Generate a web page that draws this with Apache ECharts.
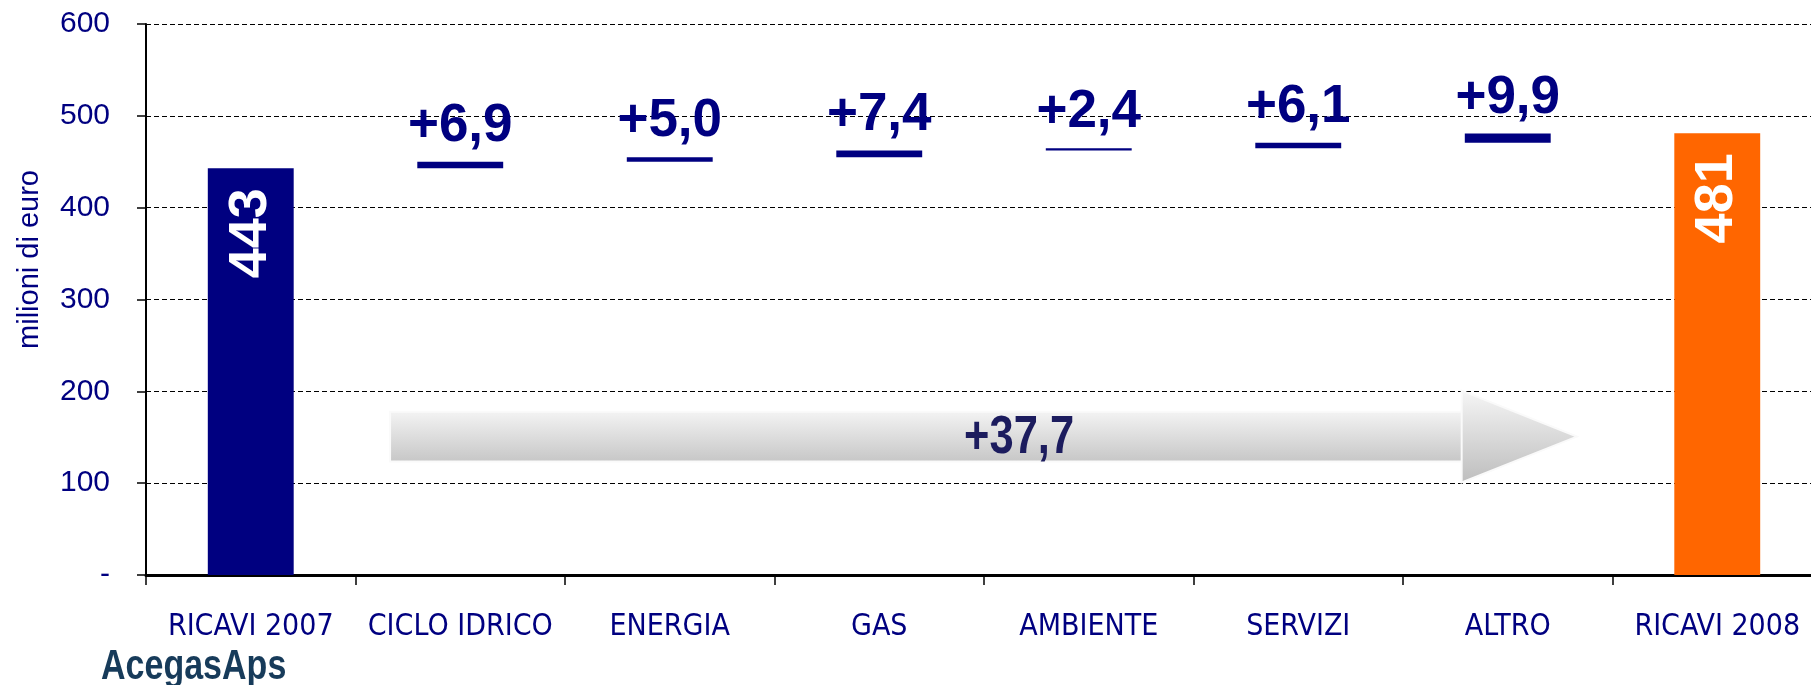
<!DOCTYPE html>
<html>
<head>
<meta charset="utf-8">
<title>Ricavi 2007 - 2008</title>
<script src="https://cdn.jsdelivr.net/npm/echarts@6/dist/echarts.min.js"></script>
<style>
  html, body { margin: 0; padding: 0; background: #fff; }
  #chart { width: 1811px; height: 685px; }
</style>
</head>
<body>
<div id="chart"></div>
<script>
const categorie = ['RICAVI 2007', 'CICLO IDRICO', 'ENERGIA', 'GAS', 'AMBIENTE', 'SERVIZI', 'ALTRO', 'RICAVI 2008'];
const ricavi2007 = 443;
const ricavi2008 = 481;
const variazioni = [6.9, 5.0, 7.4, 2.4, 6.1, 9.9];
const variazioneTotale = 37.7;
const yTicks = [0, 100, 200, 300, 400, 500, 600];

// base invisibile della cascata: cumulato delle variazioni
const base = [0];
let cumulato = ricavi2007;
variazioni.forEach(v => { base.push(cumulato); cumulato += v; });
base.push(0);
const delta = ['-'].concat(variazioni, ['-']);
const totali = [ricavi2007].concat(variazioni.map(() => '-'), [ricavi2008]);

const NAVY = '#000080';
const ORANGE = '#ff6600';
const SANS = '"Liberation Sans", Arial, sans-serif';
const NARROW = '"Liberation Sans Narrow", "DejaVu Sans Condensed", sans-serif';
const fmt = v => v.toFixed(1).replace('.', ',');

const chart = echarts.init(document.getElementById('chart'));

const option = {
  animation: false,
  // l'area del grafico prosegue oltre il bordo destro
  grid: { left: 146, right: -11, top: 24, bottom: 110, outerBoundsMode: 'none', containLabel: false },
  xAxis: {
    type: 'category',
    data: categorie,
    axisLine: { lineStyle: { color: '#000', width: 3 } },
    axisTick: { show: true, length: 10, lineStyle: { color: '#000', width: 1.5 } },
    axisLabel: { color: NAVY, fontFamily: NARROW, fontSize: 30, margin: 37, interval: 0 }
  },
  yAxis: {
    type: 'value',
    min: yTicks[0],
    max: yTicks[yTicks.length - 1],
    interval: yTicks[1] - yTicks[0],
    name: 'milioni di euro',
    nameLocation: 'middle',
    nameRotate: 90,
    nameGap: 102,
    nameTextStyle: { color: NAVY, fontFamily: SANS, fontSize: 29, padding: [0, 0, 0, 80] },
    axisLine: { show: true, lineStyle: { color: '#000', width: 2 } },
    axisTick: { show: true, length: 9, lineStyle: { color: '#000', width: 1.5 } },
    axisLabel: {
      color: NAVY, fontFamily: SANS, fontSize: 30, margin: 36,
      formatter: v => v === 0 ? '-' : v
    },
    splitLine: { lineStyle: { color: '#000', width: 1, type: [5, 3] } }
  },
  graphic: [{
    type: 'text',
    x: 101,
    y: 646,
    scaleX: 0.81,
    style: { text: 'AcegasAps', font: 'bold 42px ' + SANS, fill: '#173b5a' }
  }],
  series: [
    {
      name: 'base',
      type: 'bar',
      stack: 'w',
      barWidth: '41%',
      silent: true,
      itemStyle: { color: 'transparent' },
      data: base
    },
    {
      name: 'variazione',
      type: 'bar',
      stack: 'w',
      barWidth: '41%',
      itemStyle: { color: NAVY },
      label: {
        show: true,
        position: 'top',
        distance: 9,
        color: NAVY,
        fontFamily: SANS,
        fontWeight: 'bold',
        fontSize: 53,
        formatter: p => '+' + fmt(p.value)
      },
      data: delta
    },
    {
      name: 'ricavi',
      type: 'bar',
      stack: 'w',
      barWidth: '41%',
      itemStyle: { color: p => p.dataIndex === 0 ? NAVY : ORANGE },
      label: {
        show: true,
        position: 'insideTop',
        rotate: 90,
        align: 'right',
        verticalAlign: 'middle',
        distance: 20,
        color: '#fff',
        fontFamily: SANS,
        fontWeight: 'bold',
        fontSize: 54,
        formatter: p => p.value
      },
      data: totali
    },
    {
      // freccia della variazione complessiva, da CICLO IDRICO ad ALTRO
      name: 'totale',
      type: 'custom',
      silent: true,
      z: 3,
      encode: { x: [0, 1], y: 2 },
      data: [[1, 6, 150.7]],
      renderItem: (params, api) => {
        const band = api.size([1, 0])[0];
        const xStart = api.coord([api.value(0), 0])[0] - 0.335 * band;
        const cEnd = api.coord([api.value(1), 0])[0];
        const xHead = cEnd - 0.22 * band;
        const xTip = cEnd + 0.33 * band;
        const yMid = api.coord([0, api.value(2)])[1];
        const shaft = api.size([0, 27.2])[1];
        const head = api.size([0, 50])[1];
        const grad = (a, b) => new echarts.graphic.LinearGradient(0, 0, 0, 1, [
          { offset: 0, color: a }, { offset: 1, color: b }
        ]);
        return {
          type: 'group',
          children: [
            {
              type: 'rect',
              shape: { x: xStart, y: yMid - shaft, width: xHead - xStart + 1, height: shaft * 2 },
              style: { fill: grad('#f4f4f4', '#c6c6c6'), stroke: '#fafafa', lineWidth: 2 }
            },
            {
              type: 'polygon',
              shape: { points: [[xHead, yMid - head], [xTip, yMid], [xHead, yMid + head]] },
              style: { fill: grad('#f6f6f6', '#bdbdbd'), stroke: '#fafafa', lineWidth: 2 }
            },
            {
              type: 'text',
              x: xStart + 0.53 * (xTip - xStart),
              y: yMid + 2,
              scaleX: 0.82,
              style: {
                text: '+' + fmt(variazioneTotale),
                align: 'center',
                verticalAlign: 'middle',
                fill: '#1c1c5e',
                font: 'bold 53px ' + SANS
              }
            }
          ]
        };
      }
    }
  ]
};

chart.setOption(option);
window.addEventListener('resize', () => chart.resize());
</script>
</body>
</html>
